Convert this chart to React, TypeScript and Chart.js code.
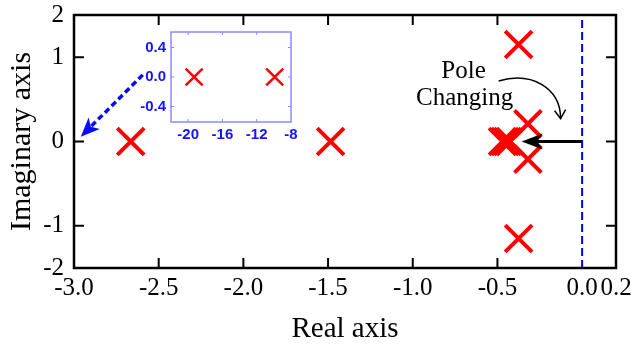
import React, { useEffect, useRef } from 'react';
import { Chart, registerables } from 'chart.js';
Chart.register(...registerables);

// ---- data ----
const poleReal = [-2.665, -1.485, -0.375, -0.375, -0.32, -0.32, -0.47, -0.455, -0.44, -0.425];
const poleImag = [0, 0, 1.15, -1.15, 0.21, -0.21, 0, 0, 0, 0];
const xTickValues = [-3.0, -2.5, -2.0, -1.5, -1.0, -0.5, 0.0, 0.2];
const xTickLabels = ['-3.0', '-2.5', '-2.0', '-1.5', '-1.0', '-0.5', '0.0', '0.2'];
const yTickValues = [-1.5, -1, 0, 1, 1.5];
const yTickLabels = ['-2', '-1', '0', '1', '2'];
const stabilityBoundary = [0, 0];
const stabilityBoundaryY = [-1.5, 1.5];
const insetReal = [-19.3, -9.9];
const insetImag = [0, 0];
const insetXTicks = [-20, -16, -12, -8];
const insetXTickLabels = ['-20', '-16', '-12', '-8'];
const insetYTicks = [-0.4, 0, 0.4];
const insetYTickLabels = ['-0.4', '0.0', '0.4'];
const annotationText = ['Pole', 'Changing'];

const SERIF = "'Liberation Serif', 'Times New Roman', serif";
const SANS = "'Liberation Sans', Arial, sans-serif";

function arrowHead(ctx: CanvasRenderingContext2D, tipX: number, tipY: number, fromX: number, fromY: number, len: number, half: number, color: string) {
  const a = Math.atan2(tipY - fromY, tipX - fromX);
  const bx = tipX - Math.cos(a) * len;
  const by = tipY - Math.sin(a) * len;
  const nx = -Math.sin(a), ny = Math.cos(a);
  const ix = tipX - Math.cos(a) * len * 0.75;
  const iy = tipY - Math.sin(a) * len * 0.75;
  ctx.save();
  ctx.setLineDash([]);
  ctx.fillStyle = color;
  ctx.beginPath();
  ctx.moveTo(tipX, tipY);
  ctx.lineTo(bx + nx * half, by + ny * half);
  ctx.lineTo(ix, iy);
  ctx.lineTo(bx - nx * half, by - ny * half);
  ctx.closePath();
  ctx.fill();
  ctx.restore();
}

const noPadX = (s: any, h: number) => { s.height = h; s.paddingLeft = 0; s.paddingRight = 0; };
const noPadY = (s: any, w: number) => { s.width = w; s.paddingTop = 0; s.paddingBottom = 0; };
const hiddenGrid = { display: false, drawTicks: false };

const mainPlugin = {
  id: 'mainDecor',
  afterDatasetsDraw(chart: any) {
    const ctx = chart.ctx as CanvasRenderingContext2D;
    const { left, right, top, bottom } = chart.chartArea;
    const xs = chart.scales.x, ys = chart.scales.y;
    const X = (v: number) => xs.getPixelForValue(v);
    const Y = (v: number) => ys.getPixelForValue(v);
    ctx.save();
    // frame
    ctx.strokeStyle = '#000';
    ctx.lineWidth = 2.5;
    ctx.setLineDash([]);
    ctx.strokeRect(left, top, right - left, bottom - top);
    // inward ticks
    ctx.lineWidth = 2;
    ctx.beginPath();
    xTickValues.forEach((v) => {
      const px = X(v);
      if (px <= left + 1 || px >= right - 1 || v === 0) return;
      ctx.moveTo(px, bottom); ctx.lineTo(px, bottom - 10);
      ctx.moveTo(px, top); ctx.lineTo(px, top + 10);
    });
    yTickValues.forEach((v) => {
      const py = Y(v);
      if (py <= top + 1 || py >= bottom - 1) return;
      ctx.moveTo(left, py); ctx.lineTo(left + 10, py);
      ctx.moveTo(right, py); ctx.lineTo(right - 10, py);
    });
    ctx.stroke();

    // black arrow (pole movement)
    const ax0 = X(0), ay0 = Y(0);
    const ax1 = X(-0.357), ay1 = Y(0);
    ctx.strokeStyle = '#000';
    ctx.lineWidth = 3;
    ctx.beginPath();
    ctx.moveTo(ax0, ay0);
    ctx.lineTo(ax1 + 14, ay1);
    ctx.stroke();
    arrowHead(ctx, ax1, ay1, ax0, ay0, 21, 8, '#000');

    // curved annotation arrow
    ctx.lineWidth = 1.5;
    ctx.beginPath();
    ctx.moveTo(X(-0.493), Y(0.718));
    ctx.bezierCurveTo(X(-0.30), Y(0.83), X(-0.127), Y(0.64), X(-0.127), Y(0.27));
    ctx.stroke();
    const tx = X(-0.127), ty = Y(0.27);
    ctx.beginPath();
    ctx.moveTo(tx - 6, ty - 8);
    ctx.lineTo(tx, ty);
    ctx.lineTo(tx + 5, ty - 9);
    ctx.stroke();

    // text
    ctx.fillStyle = '#000';
    ctx.font = `25px ${SERIF}`;
    ctx.textAlign = 'center';
    ctx.textBaseline = 'alphabetic';
    ctx.fillText(annotationText[0], X(-0.70), Y(0.85) + 8);
    ctx.fillText(annotationText[1], X(-0.694), Y(0.53) + 8);

    // blue dashed arrow pointing to the inset's location
    const bx0 = X(-2.594), by0 = Y(0.79);
    const bx1 = X(-2.96), by1 = Y(0.057);
    const ang = Math.atan2(by1 - by0, bx1 - bx0);
    ctx.strokeStyle = '#0a0aff';
    ctx.lineWidth = 3.5;
    ctx.setLineDash([6, 3.5]);
    ctx.beginPath();
    ctx.moveTo(bx0, by0);
    ctx.lineTo(bx1 - Math.cos(ang) * 14, by1 - Math.sin(ang) * 14);
    ctx.stroke();
    arrowHead(ctx, bx1, by1, bx0, by0, 19, 8, '#0a0aff');
    ctx.restore();
  },
};

const insetPlugin = {
  id: 'insetDecor',
  afterDatasetsDraw(chart: any) {
    const ctx = chart.ctx as CanvasRenderingContext2D;
    const { left, right, top, bottom } = chart.chartArea;
    const xs = chart.scales.x, ys = chart.scales.y;
    ctx.save();
    ctx.strokeStyle = '#8a8aff';
    ctx.lineWidth = 1.5;
    ctx.strokeRect(left, top, right - left, bottom - top);
    ctx.lineWidth = 1;
    ctx.beginPath();
    insetXTicks.forEach((v) => {
      const px = xs.getPixelForValue(v);
      if (px <= left + 1 || px >= right - 1) return;
      ctx.moveTo(px, bottom); ctx.lineTo(px, bottom - 3);
      ctx.moveTo(px, top); ctx.lineTo(px, top + 3);
    });
    insetYTicks.forEach((v) => {
      const py = ys.getPixelForValue(v);
      ctx.moveTo(left, py); ctx.lineTo(left + 3, py);
      ctx.moveTo(right, py); ctx.lineTo(right - 3, py);
    });
    ctx.stroke();
    ctx.restore();
  },
};

export default function App() {
  const mainRef = useRef<HTMLCanvasElement>(null);
  const insetRef = useRef<HTMLCanvasElement>(null);

  useEffect(() => {
    const poles = poleReal.map((x, i) => ({ x, y: poleImag[i] }));
    const boundary = stabilityBoundary.map((x, i) => ({ x, y: stabilityBoundaryY[i] }));
    const main = new Chart(mainRef.current!, {
      type: 'scatter',
      data: {
        datasets: [
          {
            data: boundary,
            showLine: true,
            borderColor: '#0000ff',
            borderWidth: 2,
            borderDash: [8, 4],
            pointRadius: 0,
            order: 2,
          } as any,
          {
            data: poles,
            pointStyle: 'crossRot',
            pointRadius: 19,
            borderColor: '#ff0000',
            backgroundColor: '#ff0000',
            borderWidth: 4,
            order: 1,
          } as any,
        ],
      },
      options: {
        responsive: false,
        animation: false,
        events: [],
        layout: { autoPadding: false, padding: { left: 0, right: 15, top: 15, bottom: 0 } },
        plugins: { legend: { display: false }, tooltip: { enabled: false } },
        scales: {
          x: {
            type: 'linear',
            min: -3,
            max: 0.2,
            grid: hiddenGrid,
            border: { display: false },
            afterBuildTicks: (s: any) => { s.ticks = xTickValues.map((v) => ({ value: v })); },
            afterFit: (s: any) => noPadX(s, 76),
            ticks: {
              autoSkip: false,
              maxRotation: 0,
              padding: 5,
              color: '#000',
              font: { family: SERIF, size: 25 },
              callback: (v: any) => xTickLabels[xTickValues.indexOf(Number(v))],
            },
            title: { display: true, text: 'Real axis', color: '#000', font: { family: SERIF, size: 29, lineHeight: 1.0 }, padding: 0 },
          },
          y: {
            type: 'linear',
            min: -1.5,
            max: 1.5,
            grid: hiddenGrid,
            border: { display: false },
            afterBuildTicks: (s: any) => { s.ticks = yTickValues.map((v) => ({ value: v })); },
            afterFit: (s: any) => noPadY(s, 74),
            ticks: {
              autoSkip: false,
              padding: 10,
              color: '#000',
              font: { family: SERIF, size: 25 },
              callback: (v: any) => yTickLabels[yTickValues.indexOf(Number(v))],
            },
            title: { display: true, text: 'Imaginary axis', color: '#000', font: { family: SERIF, size: 30 }, padding: { top: 4, bottom: 0 } },
          },
        },
      },
      plugins: [mainPlugin],
    });

    const insetPts = insetReal.map((x, i) => ({ x, y: insetImag[i] }));
    const inset = new Chart(insetRef.current!, {
      type: 'scatter',
      data: {
        datasets: [
          {
            data: insetPts,
            pointStyle: 'crossRot',
            pointRadius: 12,
            borderColor: '#ff0000',
            backgroundColor: '#ff0000',
            borderWidth: 2.5,
          } as any,
        ],
      },
      options: {
        responsive: false,
        animation: false,
        events: [],
        layout: { autoPadding: false, padding: { left: 0, right: 9, top: 7, bottom: 0 } },
        plugins: { legend: { display: false }, tooltip: { enabled: false } },
        scales: {
          x: {
            type: 'linear',
            min: -22,
            max: -8,
            grid: hiddenGrid,
            border: { display: false },
            afterBuildTicks: (s: any) => { s.ticks = insetXTicks.map((v) => ({ value: v })); },
            afterFit: (s: any) => noPadX(s, 23),
            ticks: {
              autoSkip: false,
              maxRotation: 0,
              padding: 4,
              color: '#1414ff',
              font: { family: SANS, size: 15, weight: 'bold' },
              callback: (v: any) => insetXTickLabels[insetXTicks.indexOf(Number(v))],
            },
          },
          y: {
            type: 'linear',
            min: -0.61,
            max: 0.61,
            grid: hiddenGrid,
            border: { display: false },
            afterBuildTicks: (s: any) => { s.ticks = insetYTicks.map((v) => ({ value: v })); },
            afterFit: (s: any) => noPadY(s, 46),
            ticks: {
              autoSkip: false,
              padding: 5,
              color: '#1414ff',
              font: { family: SANS, size: 15, weight: 'bold' },
              callback: (v: any) => insetYTickLabels[insetYTicks.indexOf(Number(v))],
            },
          },
        },
      },
      plugins: [insetPlugin],
    });

    return () => {
      main.destroy();
      inset.destroy();
    };
  }, []);

  return (
    <div style={{ position: 'fixed', left: 0, top: 0, width: 631, height: 344, background: '#fff' }}>
      <canvas ref={mainRef} width={631} height={344} style={{ position: 'absolute', left: 0, top: 0 }} />
      <canvas ref={insetRef} width={175} height={120} style={{ position: 'absolute', left: 125, top: 25 }} />
    </div>
  );
}
